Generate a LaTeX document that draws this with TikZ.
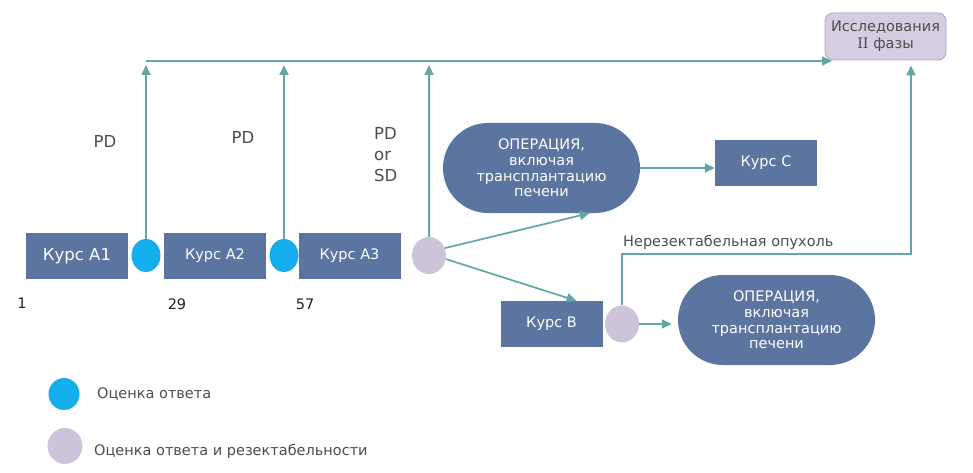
\documentclass[tikz,border=0pt]{standalone}
\usepackage{fontspec}
\setmainfont{DejaVu Sans}
\newfontfamily\romanii{DejaVu Serif}
\usetikzlibrary{arrows.meta,shapes.geometric,shapes.misc}
\definecolor{boxfill}{HTML}{5B74A0}
\definecolor{cyanc}{HTML}{14AEEC}
\definecolor{lav}{HTML}{CDC4DC}
\definecolor{linec}{HTML}{62A6A6}
\definecolor{phasefill}{HTML}{D6CDE2}
\definecolor{phaseborder}{HTML}{ADA5BA}
\definecolor{txtc}{HTML}{4D4D4D}
\definecolor{numc}{HTML}{222222}
\begin{document}
\begin{tikzpicture}[x=1pt,y=-1pt,
  course/.style={rectangle,fill=boxfill,text=white,minimum width=102pt,minimum height=46pt,inner sep=0pt,font=\fontsize{14.5}{16}\selectfont},
  op/.style={rounded rectangle,fill=boxfill,text=white,minimum width=197pt,minimum height=90pt,inner sep=0pt,align=center,font=\fontsize{14.5}{15.7}\selectfont},
  resp/.style={ellipse,fill=cyanc,minimum width=29pt,minimum height=33pt,inner sep=0pt},
  resect/.style={ellipse,fill=lav,minimum width=34pt,minimum height=37pt,inner sep=0pt},
  arr/.style={draw=linec,line width=1.7pt,-{Triangle[length=10pt,width=9pt]}},
  lbl/.style={text=txtc,font=\fontsize{14.5}{18}\selectfont,inner sep=0pt},
  big/.style={text=txtc,font=\fontsize{16.5}{21}\selectfont,inner sep=0pt,align=left},
  num/.style={text=numc,font=\fontsize{14.5}{16}\selectfont,inner sep=0pt},
]
\useasboundingbox[fill=white] (0,0) rectangle (973,473);

% courses A
\node[course,font=\fontsize{16.5}{18}\selectfont] (a1) at (77,256) {Курс A1};
\node[resp] (c1) at (146,255.5) {};
\node[course] (a2) at (215,256) {Курс A2};
\node[resp] (c2) at (284,255.5) {};
\node[course] (a3) at (349.5,256) {Курс A3};
\node[resect] (c3) at (429,255.5) {};

% day numbers
\node[num] (n1) at (22,303) {1};
\node[num] (n29) at (177,304) {29};
\node[num] (n57) at (305,304) {57};

% PD labels
\node[big] (pd1) at (105,141) {PD};
\node[big] (pd2) at (243,137) {PD};
\node[big,anchor=north west] (pd3) at (374,127) {PD\\or\\SD};

% phase II box
\node[rectangle,rounded corners=8pt,fill=phasefill,draw=phaseborder,line width=0.8pt,
      minimum width=121pt,minimum height=47pt,inner sep=0pt,align=center,
      text=txtc,font=\fontsize{14.5}{17}\selectfont] (phase) at (885.5,36.5) {Исследования\\{\romanii II} фазы};

% operations and other courses
\node[op] (op1) at (541.5,168) {ОПЕРАЦИЯ,\\включая\\трансплантацию\\печени};
\node[course] (kc) at (766,163) {Курс C};
\node[course] (kb) at (551.5,324) {Курс B};
\node[resect] (c4) at (622,324) {};
\node[op] (op2) at (776.5,320) {ОПЕРАЦИЯ,\\включая\\трансплантацию\\печени};

% connectors
\coordinate (L) at (146,61);
\coordinate (pin) at (832,61);
\draw[arr] (L) -- (pin);
\draw[arr] (c1.north) -- ([yshift=-4pt]c1.north |- L);
\draw[arr] (c2.north) -- ([yshift=-4pt]c2.north |- L);
\draw[arr] (c3.north) -- ([yshift=-4pt]c3.north |- L);

\draw[arr] (c3.25) -- ([xshift=48pt]op1.south);
\draw[arr] (c3.-12) -- ([xshift=25pt]kb.north);
\draw[arr] (op1.east) -- (op1.east -| kc.west);
\draw[arr,shorten >=6pt] (c4.east) -- (c4.east -| op2.west);

\coordinate (bend) at (911,254);
\draw[arr,shorten >=5pt] (c4.north) |- (bend) -- (bend |- phase.south);
\node[lbl,anchor=west] (unres) at (623,242) {Нерезектабельная опухоль};

% legend
\node[resp,minimum width=31pt,minimum height=32pt] (lg1) at (64,394) {};
\node[lbl,anchor=west] (lt1) at (97,394) {Оценка ответа};
\node[resect,minimum width=35pt,minimum height=36pt] (lg2) at (65,446) {};
\node[lbl,anchor=west] (lt2) at (94,451) {Оценка ответа и резектабельности};
\end{tikzpicture}
\end{document}
